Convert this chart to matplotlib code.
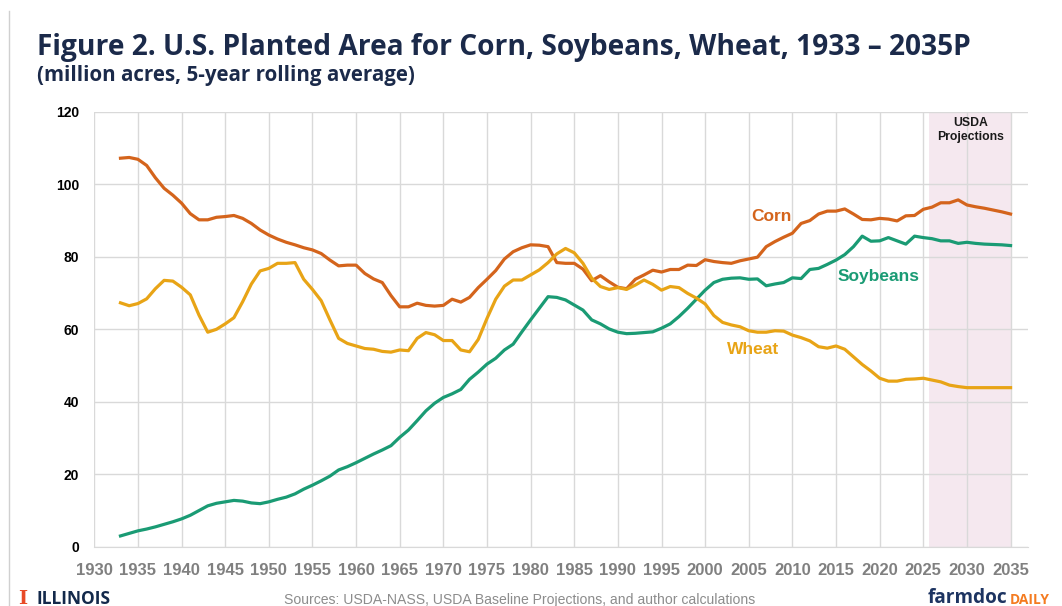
import matplotlib
matplotlib.use("Agg")
import matplotlib.pyplot as plt
from matplotlib import font_manager
from matplotlib.lines import Line2D
import numpy as np

# ---------------- data ----------------
years = list(range(1933, 2036))

corn = [107.2, 107.4, 106.9, 105.2, 101.8, 98.9, 97.0, 94.8, 91.9, 90.2,
        90.2, 90.9, 91.1, 91.4, 90.6, 89.2, 87.4, 86.0, 84.9, 84.0,
        83.3, 82.5, 81.9, 80.9, 79.1, 77.5, 77.7, 77.7, 75.4, 73.9,
        72.9, 69.3, 66.2, 66.2, 67.2, 66.6, 66.4, 66.6, 68.3, 67.5,
        68.8, 71.5, 73.8, 76.2, 79.4, 81.4, 82.5, 83.3, 83.2, 82.8,
        78.4, 78.2, 78.2, 76.6, 73.4, 74.8, 73.1, 71.6, 71.2, 73.8,
        75.0, 76.3, 75.8, 76.5, 76.5, 77.7, 77.6, 79.2, 78.7, 78.4,
        78.2, 78.9, 79.4, 79.9, 82.8, 84.2, 85.4, 86.5, 89.2, 90.0,
        91.8, 92.6, 92.6, 93.2, 91.8, 90.3, 90.2, 90.6, 90.4, 89.9,
        91.3, 91.4, 93.1, 93.7, 94.9, 94.9, 95.7, 94.3, 93.8, 93.4,
        92.9, 92.4, 91.8]

soybeans = [3.0, 3.7, 4.4, 4.9, 5.5, 6.2, 6.9, 7.7, 8.7, 10.0,
            11.3, 12.0, 12.4, 12.8, 12.6, 12.1, 11.9, 12.4, 13.1, 13.7,
            14.6, 15.9, 17.0, 18.2, 19.5, 21.2, 22.1, 23.2, 24.4, 25.6,
            26.7, 27.9, 30.2, 32.2, 34.8, 37.5, 39.6, 41.2, 42.2, 43.4,
            46.2, 48.2, 50.4, 52.0, 54.3, 55.9, 59.3, 62.6, 65.8, 69.0,
            68.8, 68.1, 66.7, 65.3, 62.6, 61.5, 60.1, 59.2, 58.8, 58.9,
            59.1, 59.3, 60.3, 61.5, 63.5, 65.8, 68.3, 70.8, 72.9, 73.8,
            74.1, 74.2, 73.8, 73.9, 72.0, 72.5, 72.9, 74.2, 74.0, 76.5,
            76.8, 77.9, 79.1, 80.6, 82.8, 85.7, 84.3, 84.4, 85.3, 84.4,
            83.5, 85.7, 85.3, 85.0, 84.4, 84.4, 83.7, 84.0, 83.7, 83.5,
            83.4, 83.3, 83.1]

wheat = [67.3, 66.5, 67.1, 68.4, 71.2, 73.5, 73.3, 71.6, 69.5, 63.9,
         59.2, 60.0, 61.5, 63.2, 67.6, 72.5, 76.1, 76.8, 78.2, 78.2,
         78.4, 73.8, 71.0, 67.9, 62.6, 57.5, 56.1, 55.4, 54.7, 54.5,
         53.9, 53.7, 54.3, 54.1, 57.5, 59.1, 58.5, 56.9, 56.9, 54.3,
         53.8, 57.2, 63.0, 68.3, 71.9, 73.6, 73.6, 75.0, 76.4, 78.4,
         80.8, 82.3, 81.1, 78.2, 74.1, 71.8, 71.0, 71.5, 71.0, 72.2,
         73.6, 72.4, 70.8, 71.8, 71.5, 69.9, 68.6, 67.0, 63.8, 61.9,
         61.2, 60.7, 59.6, 59.2, 59.2, 59.6, 59.5, 58.4, 57.7, 56.8,
         55.2, 54.8, 55.4, 54.5, 52.4, 50.3, 48.5, 46.5, 45.7, 45.7,
         46.2, 46.3, 46.5, 46.0, 45.5, 44.6, 44.2, 43.9, 43.9, 43.9,
         43.9, 43.9, 43.9]

x_ticks = list(range(1930, 2036, 5))
y_ticks = [0, 20, 40, 60, 80, 100, 120]
series_names = ["Corn", "Soybeans", "Wheat"]
title_text = "Figure 2. U.S. Planted Area for Corn, Soybeans, Wheat, 1933 \u2013 2035P"
subtitle_text = "(million acres, 5-year rolling average)"
source_text = "Sources: USDA-NASS, USDA Baseline Projections, and author calculations"
proj_start, proj_end = 2025.6, 2035

# ---------------- helpers ----------------
def fam(*names):
    out = []
    for n in names:
        try:
            font_manager.findfont(font_manager.FontProperties(family=n), fallback_to_default=False)
            out.append(n)
        except Exception:
            pass
    out.append("DejaVu Sans")
    return out

def bold_fam(*names):
    out = []
    for n in names:
        for f in font_manager.fontManager.ttflist:
            w = f.weight
            if isinstance(w, str):
                w = {"bold": 700, "heavy": 800, "black": 900, "extra bold": 800,
                     "semibold": 600, "demibold": 600}.get(w.lower(), 400)
            if f.name == n and w >= 700 and f.style == "normal":
                out.append(n)
                break
    out.append("DejaVu Sans")
    return out

ARIAL = fam("Liberation Sans", "Arimo")
NARROW = fam("Liberation Sans Narrow", "Liberation Sans")
TITLEF = bold_fam("Montserrat", "Open Sans", "Lato", "Noto Sans")

C_CORN = "#D4641C"
C_SOY = "#1A9B74"
C_WHEAT = "#E8A416"
NAVY = "#1B2A4A"
GRID = "#D9D9D9"

W, H = 1062, 606
fig = plt.figure(figsize=(W / 100, H / 100), dpi=100)
fig.patch.set_facecolor("white")

def px(x, y):
    return x / W, 1 - y / H

left, right = 94.3 / W, 1028 / W
bottom, top = 1 - 546.8 / H, 1 - 111.8 / H
ax = fig.add_axes([left, bottom, right - left, top - bottom])

ax.axvspan(proj_start, proj_end, color="#F5E8EF", zorder=0.2, lw=0)
ax.set_axisbelow(True)
ax.grid(True, color=GRID, lw=1.0)

ax.plot(years, corn, color=C_CORN, lw=2.3, zorder=3, solid_joinstyle="round")
ax.plot(years, soybeans, color=C_SOY, lw=2.3, zorder=3, solid_joinstyle="round")
ax.plot(years, wheat, color=C_WHEAT, lw=2.3, zorder=3, solid_joinstyle="round")

ax.set_xlim(1930, 2037)
ax.set_ylim(0, 120)
ax.set_xticks(x_ticks)
ax.set_yticks(y_ticks)
for s in ["top", "right", "left"]:
    ax.spines[s].set_visible(False)
ax.spines["bottom"].set_color(GRID)
ax.tick_params(axis="both", length=0)
ax.tick_params(axis="y", pad=11)
ax.tick_params(axis="x", pad=12)
for lab in ax.get_yticklabels():
    lab.set_fontfamily(ARIAL)
    lab.set_fontweight("bold")
    lab.set_fontsize(10)
    lab.set_color("black")
for lab in ax.get_xticklabels():
    lab.set_fontfamily(NARROW)
    lab.set_fontweight("bold")
    lab.set_fontsize(12)
    lab.set_color("#808080")

# series labels
ax.text(2007.6, 91.1, series_names[0], color=C_CORN, fontsize=12.5, fontweight="bold",
        family=ARIAL, ha="center", va="center", zorder=4)
ax.text(2019.9, 74.5, series_names[1], color=C_SOY, fontsize=12.5, fontweight="bold",
        family=ARIAL, ha="center", va="center", zorder=4)
ax.text(2005.5, 54.5, series_names[2], color=C_WHEAT, fontsize=12.5, fontweight="bold",
        family=ARIAL, ha="center", va="center", zorder=4)
ax.text((proj_start + proj_end) / 2 + 0.1, 115.0, "USDA\nProjections", color="#1a1a1a",
        fontsize=8.8, fontweight="bold", family=ARIAL, ha="center", va="center",
        linespacing=1.15, zorder=4)

# titles
t_title = fig.text(*px(37, 48), title_text, fontsize=18.5, fontweight="bold", color=NAVY,
                   family=TITLEF, ha="left", va="center")
t_sub = fig.text(*px(37, 75), subtitle_text, fontsize=12.5, fontweight="bold", color=NAVY,
                 family=TITLEF, ha="left", va="center")

# left border line
fig.add_artist(Line2D([9 / W, 9 / W], [0, 1 - 11 / H], transform=fig.transFigure,
                      color="#D0D0D0", lw=1))

# footer
t_src = fig.text(*px(520, 600), source_text, fontsize=10.5, color="#8C8C8C", family=NARROW,
                 ha="center", va="center")
fig.text(*px(23, 599), "I", fontsize=14, fontweight="bold", color="#E84A27",
         family=["DejaVu Serif"], ha="center", va="center")
t_ill = fig.text(*px(37, 599), "ILLINOIS", fontsize=11.5, fontweight="bold", color="#13294B",
                 family=TITLEF, ha="left", va="center")
t1 = fig.text(*px(928, 598), "farmdoc", fontsize=14.5, fontweight="bold", color="#1D3461",
              family=TITLEF, ha="left", va="center")
t2 = fig.text(*px(1011, 600), "DAILY", fontsize=10, fontweight="bold",
              color="#F47B20", family=TITLEF, ha="left", va="center")

# fit text widths to the reference layout
fig.canvas.draw()
for t, target in [(t_title, 936), (t_sub, 378), (t_ill, 74), (t1, 80), (t2, 40), (t_src, 474)]:
    w = t.get_window_extent().width
    t.set_fontsize(t.get_fontsize() * target / w)
fig.canvas.draw()
bb = t1.get_window_extent()
t2.set_x(bb.x1 / W + 2 / W)

fig.savefig("out.png", dpi=100, facecolor="white")
